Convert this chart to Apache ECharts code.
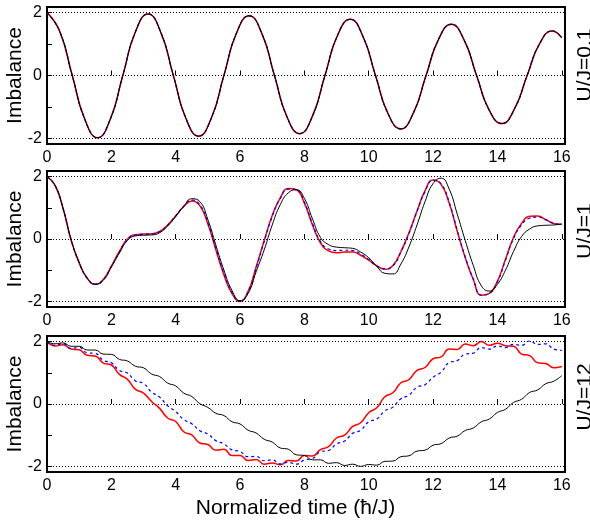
<!DOCTYPE html>
<html>
<head>
<meta charset="utf-8">
<script src="https://cdn.jsdelivr.net/npm/echarts@6/dist/echarts.min.js"></script>
<style>
html,body{margin:0;padding:0;background:#fff;}
#chart{width:590px;height:523px;}
</style>
</head>
<body>
<div id="chart"></div>
<script>
// U/J=0.1 read at the extrema and halfway points (hbar/J)
var timeP1=[0,0.393,0.785,1.178,1.571,1.963,2.356,2.749,
	3.142,3.534,3.927,4.320,4.712,5.105,5.498,5.890,
	6.283,6.676,7.069,7.461,7.854,8.247,8.639,9.032,
	9.425,9.817,10.210,10.603,10.996,11.388,11.781,12.174,
	12.566,12.959,13.352,13.744,14.137,14.530,14.923,15.315,
	15.708,16.0];
// the three curves lie on top of each other
var p1Values=[2.00,1.41,0.00,-1.40,-1.98,-1.40,0.00,1.39,
	1.96,1.38,0.00,-1.37,-1.93,-1.36,0.00,1.35,
	1.90,1.34,0.00,-1.32,-1.85,-1.30,0.00,1.28,
	1.79,1.25,0.00,-1.22,-1.70,-1.19,0.00,1.16,
	1.63,1.14,0.00,-1.10,-1.53,-1.06,0.00,1.02,
	1.42,1.20];

// U/J=1 and U/J=12 read every 0.25
var timeVals=[0,0.25,0.5,0.75,1,1.25,1.5,1.75,
	2,2.25,2.5,2.75,3,3.25,3.5,3.75,
	4,4.25,4.5,4.75,5,5.25,5.5,5.75,
	6,6.25,6.5,6.75,7,7.25,7.5,7.75,
	8,8.25,8.5,8.75,9,9.25,9.5,9.75,
	10,10.25,10.5,10.75,11,11.25,11.5,11.75,
	12,12.25,12.5,12.75,13,13.25,13.5,13.75,
	14,14.25,14.5,14.75,15,15.25,15.5,15.75,
	16];

var p2Black=[2.00,1.72,0.98,-0.02,-0.75,-1.25,-1.45,-1.32,
	-0.90,-0.45,-0.05,0.10,0.12,0.13,0.20,0.42,
	0.72,1.05,1.29,1.20,0.62,-0.20,-1.00,-1.65,
	-1.98,-1.75,-1.05,-0.35,0.45,1.10,1.48,1.58,
	1.30,0.65,0.05,-0.18,-0.26,-0.28,-0.30,-0.42,
	-0.60,-0.88,-1.10,-1.12,-0.80,-0.25,0.45,1.20,
	1.78,1.95,1.60,0.80,-0.05,-0.85,-1.50,-1.67,
	-1.45,-1.00,-0.40,0.08,0.32,0.42,0.44,0.45,
	0.48];
var p2Red=[2.00,1.72,0.98,-0.04,-0.77,-1.26,-1.45,-1.30,
	-0.87,-0.40,0.00,0.14,0.16,0.17,0.24,0.45,
	0.74,1.04,1.22,1.07,0.48,-0.35,-1.15,-1.75,
	-2.00,-1.68,-0.90,-0.05,0.75,1.32,1.62,1.58,
	1.15,0.45,-0.12,-0.38,-0.44,-0.42,-0.42,-0.52,
	-0.68,-0.86,-0.97,-0.85,-0.40,0.20,0.90,1.55,
	1.89,1.75,1.15,0.25,-0.60,-1.30,-1.80,-1.74,
	-1.35,-0.65,0.05,0.50,0.73,0.74,0.62,0.50,
	0.47];
var p2Blue=[2.00,1.72,0.98,-0.03,-0.76,-1.26,-1.45,-1.31,
	-0.88,-0.42,-0.01,0.13,0.15,0.16,0.23,0.44,
	0.74,1.05,1.25,1.10,0.52,-0.30,-1.10,-1.72,
	-2.00,-1.70,-0.93,-0.08,0.72,1.30,1.60,1.58,
	1.18,0.50,-0.08,-0.32,-0.37,-0.36,-0.37,-0.48,
	-0.66,-0.86,-0.95,-0.86,-0.42,0.18,0.88,1.52,
	1.88,1.77,1.18,0.28,-0.58,-1.28,-1.80,-1.74,
	-1.37,-0.68,0.02,0.45,0.67,0.70,0.62,0.50,
	0.47];

var p3Black=[2.00,1.93,1.96,1.85,1.85,1.73,1.73,1.60,
	1.59,1.43,1.38,1.21,1.16,0.96,0.88,0.67,
	0.58,0.35,0.24,0.01,-0.11,-0.30,-0.37,-0.57,
	-0.64,-0.84,-0.93,-1.13,-1.22,-1.41,-1.45,-1.63,
	-1.65,-1.79,-1.79,-1.90,-1.88,-1.97,-1.93,-2.00,
	-1.94,-1.96,-1.84,-1.83,-1.69,-1.66,-1.51,-1.48,
	-1.32,-1.27,-1.09,-1.03,-0.85,-0.77,-0.57,-0.48,
	-0.27,-0.17,0.05,0.15,0.37,0.45,0.65,0.73,
	0.91];
var p3Red=[2.00,1.86,1.90,1.76,1.74,1.56,1.54,1.31,
	1.25,0.95,0.79,0.47,0.35,0.08,-0.14,-0.45,
	-0.56,-0.89,-0.99,-1.25,-1.30,-1.48,-1.45,-1.65,
	-1.65,-1.81,-1.78,-1.93,-1.89,-1.95,-1.81,-1.83,
	-1.65,-1.67,-1.46,-1.37,-1.09,-1.00,-0.72,-0.60,
	-0.28,-0.12,0.23,0.36,0.68,0.78,1.08,1.17,
	1.45,1.51,1.76,1.75,1.92,1.87,2.00,1.88,
	1.95,1.87,1.85,1.60,1.55,1.32,1.30,1.16,
	1.20];
var p3Blue=[2.00,1.88,1.94,1.78,1.82,1.64,1.62,1.40,
	1.32,1.08,0.99,0.74,0.66,0.38,0.22,-0.06,
	-0.24,-0.50,-0.63,-0.86,-0.96,-1.18,-1.28,-1.47,
	-1.52,-1.69,-1.68,-1.82,-1.79,-1.92,-1.87,-1.93,
	-1.79,-1.75,-1.53,-1.49,-1.28,-1.19,-0.94,-0.84,
	-0.57,-0.48,-0.22,-0.10,0.17,0.28,0.54,0.62,
	0.86,1.02,1.33,1.39,1.60,1.63,1.81,1.76,
	1.86,1.81,1.91,1.88,2.02,1.91,1.93,1.76,
	1.72];

var xTicks=[0,2,4,6,8,10,12,14,16];
var yTicks=[-2,-1,0,1,2];
var yLabels=[-2,0,2];
var dotLines=[-2,0,2];
var panelNames=["U/J=0.1","U/J=1","U/J=12"];

var fontName='"Liberation Sans", Arial, Helvetica, sans-serif';
var gridTops=[7,171,336];
var gridHeights=[137,136,136];
var labelY=[65,231,397];

function pairs(times,vals){
	var out=[];
	for(var i=0;i<vals.length;i++){
		out.push([times[i],vals[i]]);
	}
	return out;
}

var grids=[],xAxes=[],yAxes=[],series=[],graphics=[];
for(var g=0;g<3;g++){
	grids.push({left:47,top:gridTops[g],width:518,height:gridHeights[g],
		show:true,borderColor:'#000',borderWidth:2,backgroundColor:'transparent'});
	xAxes.push({type:'value',gridIndex:g,min:0,max:16.1,
		axisLine:{show:false},
		axisTick:{show:true,inside:true,length:5,customValues:xTicks,lineStyle:{color:'#000',width:1}},
		axisLabel:{show:true,customValues:xTicks,margin:6,color:'#000',fontSize:16,fontFamily:fontName},
		splitLine:{show:false}});
	yAxes.push({type:'value',gridIndex:g,min:-2.18,max:2.18,
		axisLine:{show:false},
		axisTick:{show:true,inside:true,length:5,customValues:yTicks,lineStyle:{color:'#000',width:1}},
		axisLabel:{show:true,customValues:yLabels,margin:5,color:'#000',fontSize:16,fontFamily:fontName},
		splitLine:{show:false}});
	graphics.push({type:'text',x:15.5,y:gridTops[g]+gridHeights[g]/2,rotation:Math.PI/2,
		style:{text:'Imbalance',font:'21px '+fontName,fill:'#000',
			textAlign:'center',textVerticalAlign:'middle',align:'center',verticalAlign:'middle'}});
	graphics.push({type:'text',x:585.5,y:labelY[g],rotation:Math.PI/2,
		style:{text:panelNames[g],font:'21px '+fontName,fill:'#000',
			textAlign:'center',textVerticalAlign:'middle',align:'center',verticalAlign:'middle'}});
}
graphics.push({type:'text',x:295.5,y:508,
	style:{text:'Normalized time (ħ/J)',font:'21px '+fontName,fill:'#000',
		textAlign:'center',textVerticalAlign:'middle',align:'center',verticalAlign:'middle'}});

var panelTimes=[timeP1,timeVals,timeVals];
var panelData=[
	[p1Values,p1Values,p1Values],
	[p2Red,p2Black,p2Blue],
	[p3Red,p3Black,p3Blue]
];
// red under, blue dashed, black on top
var lineLook=[
	{color:'#ff0000',width:1.5,type:'solid',z:3},
	{color:'#000000',width:1,type:'solid',z:5},
	{color:'#0000ff',width:1.2,type:[3,3],z:4}
];
for(var g=0;g<3;g++){
	for(var k=0;k<3;k++){
		var s={type:'line',xAxisIndex:g,yAxisIndex:g,data:pairs(panelTimes[g],panelData[g][k]),
			smooth:0.5,showSymbol:false,symbol:'none',silent:true,
			lineStyle:{color:lineLook[k].color,width:lineLook[k].width,type:lineLook[k].type},
			z:lineLook[k].z};
		if(k==0){
			s.markLine={silent:true,symbol:['none','none'],label:{show:false},
				lineStyle:{color:'#000',width:1,type:[1,2]},
				data:dotLines.map(function(v){return {yAxis:v};})};
		}
		series.push(s);
	}
}

var myChart=echarts.init(document.getElementById('chart'));
var option={
	animation:false,
	backgroundColor:'#fff',
	grid:grids,
	xAxis:xAxes,
	yAxis:yAxes,
	series:series,
	graphic:graphics
};
myChart.setOption(option);
</script>
</body>
</html>
